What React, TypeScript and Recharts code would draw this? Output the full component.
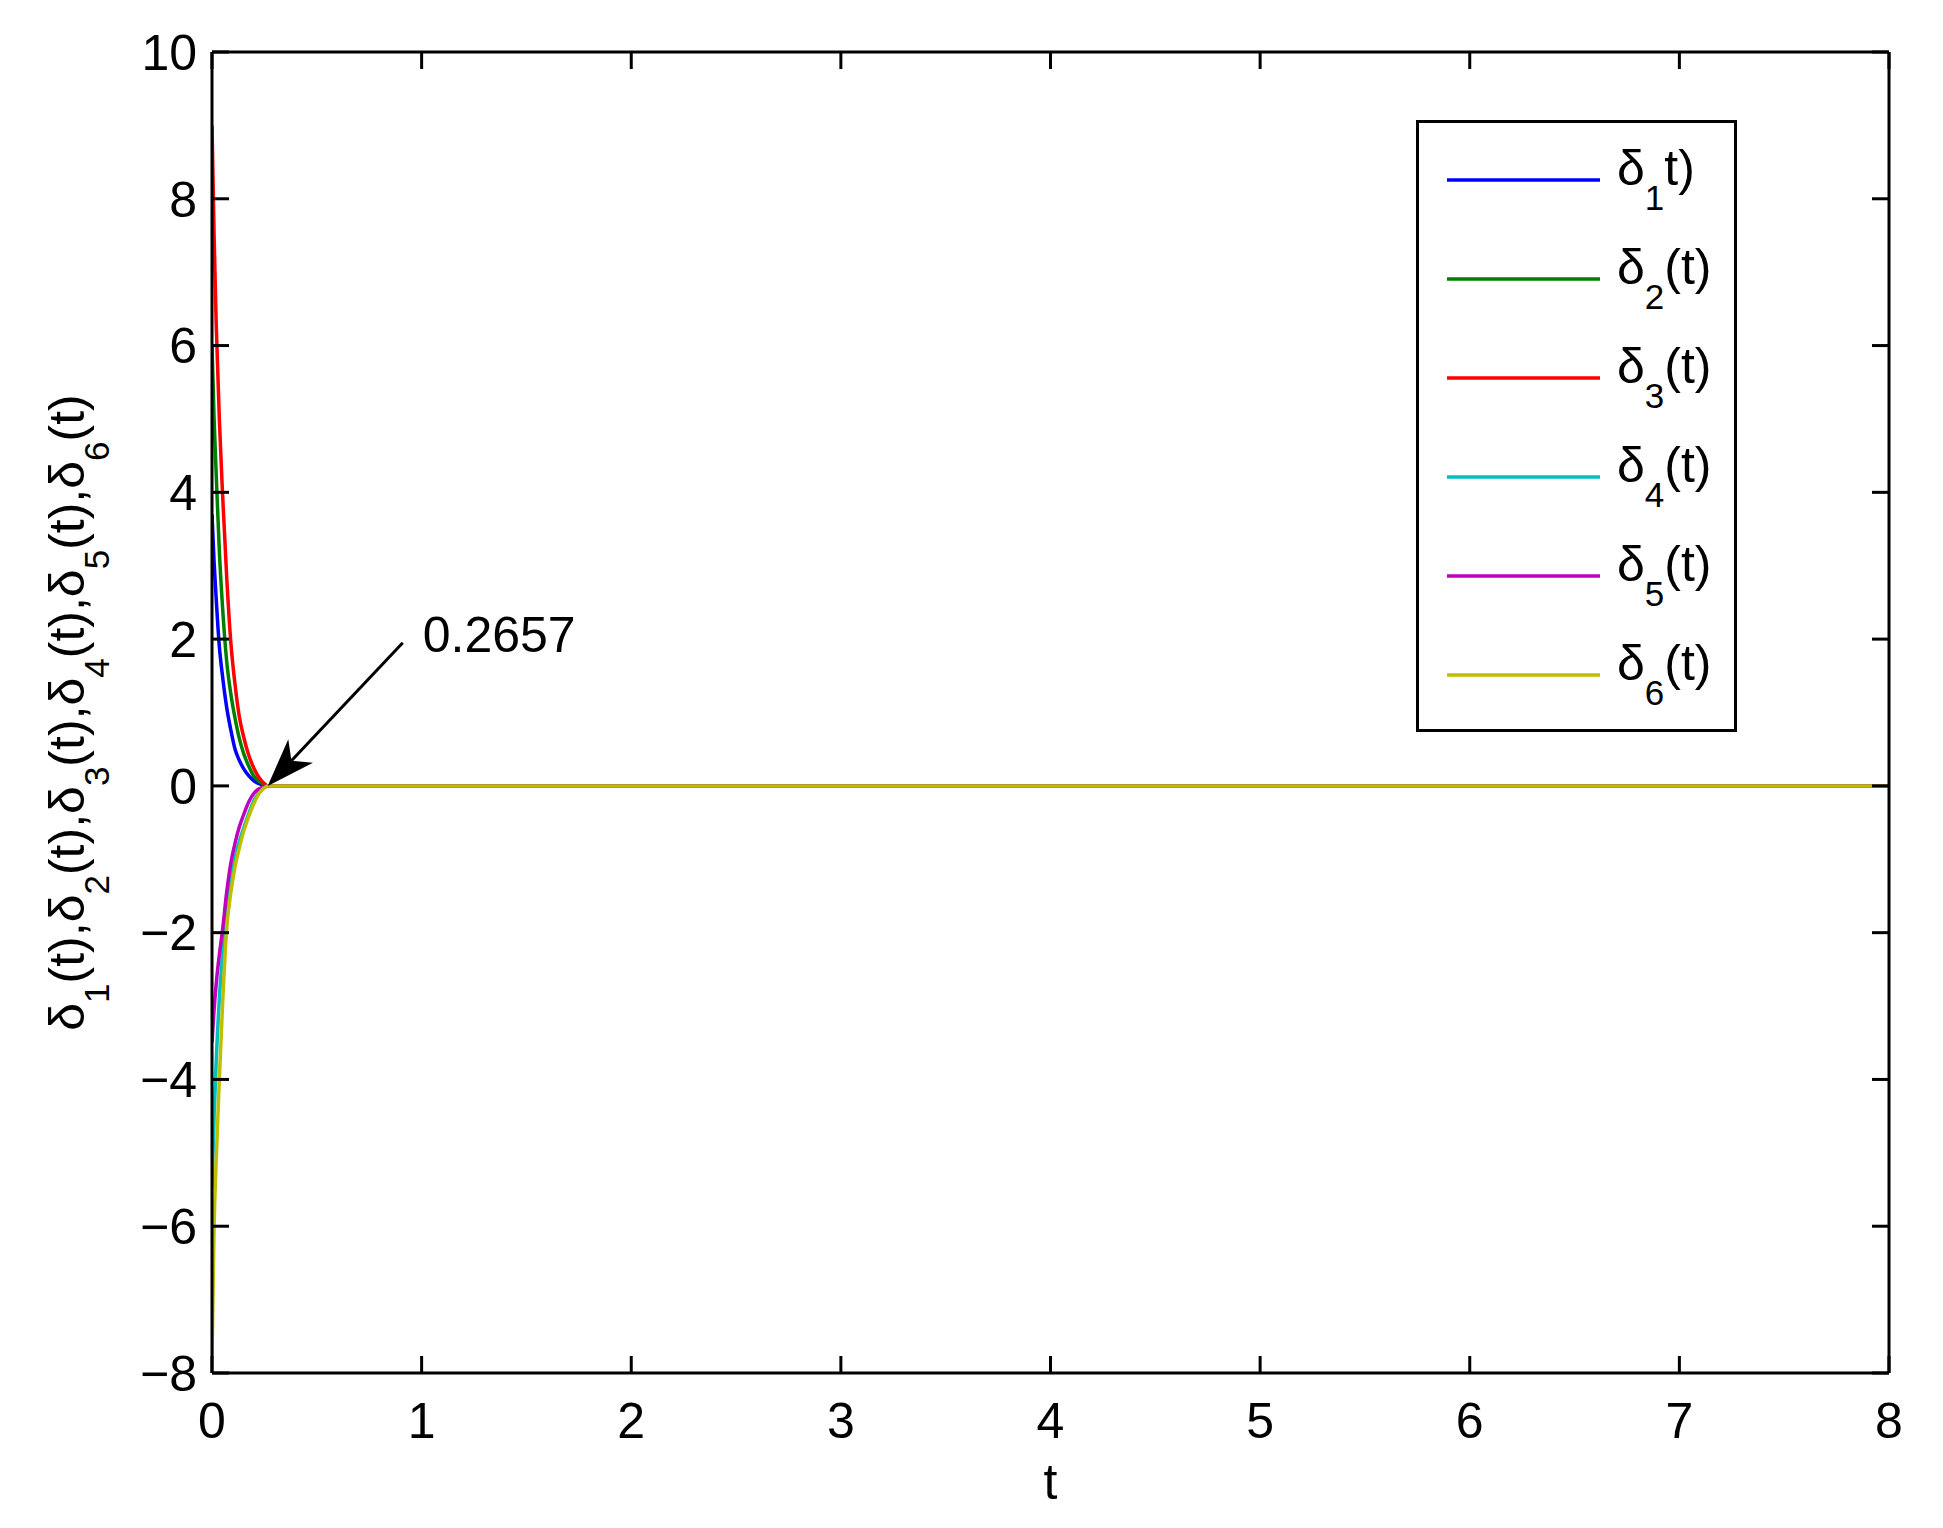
import React from "react";
import {Legend, Line, LineChart, ReferenceLine, XAxis, YAxis} from "recharts";

const FONT = "'Liberation Sans', Arial, Helvetica, sans-serif";

// time samples (s) and the six error trajectories
const times = [0, 0.01, 0.02, 0.035, 0.05, 0.07, 0.09, 0.11, 0.13, 0.15, 0.175, 0.2, 0.225, 0.25, 0.2657, 0.5, 1, 2, 3, 4, 5, 6, 7, 8];
const delta1 = [3.7, 3.05, 2.55, 1.9, 1.5, 1.07, 0.76, 0.5, 0.35, 0.24, 0.14, 0.07, 0.03, 0.005, 0, 0, 0, 0, 0, 0, 0, 0, 0, 0];
const delta2 = [6, 5.0, 4.25, 3.2, 2.45, 1.7, 1.25, 0.92, 0.65, 0.45, 0.27, 0.13, 0.06, 0.015, 0, 0, 0, 0, 0, 0, 0, 0, 0, 0];
const delta3 = [9, 7.5, 6.3, 5.0, 4.0, 2.85, 1.95, 1.38, 0.95, 0.68, 0.42, 0.24, 0.11, 0.03, 0, 0, 0, 0, 0, 0, 0, 0, 0, 0];
const delta4 = [-5.5, -4.5, -3.75, -2.9, -2.3, -1.7, -1.3, -0.98, -0.76, -0.58, -0.38, -0.2, -0.09, -0.02, 0, 0, 0, 0, 0, 0, 0, 0, 0, 0];
const delta5 = [-3.5, -3.05, -2.7, -2.3, -1.97, -1.45, -1.05, -0.78, -0.56, -0.4, -0.22, -0.1, -0.04, -0.01, 0, 0, 0, 0, 0, 0, 0, 0, 0, 0];
const delta6 = [-7.8, -6.0, -5.1, -4.0, -3.0, -1.95, -1.45, -1.1, -0.85, -0.63, -0.42, -0.24, -0.1, -0.025, 0, 0, 0, 0, 0, 0, 0, 0, 0, 0];

const seriesKeys = ["d1", "d2", "d3", "d4", "d5", "d6"];
const seriesColors = ["#0000ff", "#008000", "#ff0000", "#00bfbf", "#bf00bf", "#bfbf00"];
const legendSubs = ["1", "2", "3", "4", "5", "6"];
const legendTails = ["t)", "(t)", "(t)", "(t)", "(t)", "(t)"];

const xTicks = [0, 1, 2, 3, 4, 5, 6, 7, 8];
const yTicks = [-8, -6, -4, -2, 0, 2, 4, 6, 8, 10];

const settleTime = 0.2657;
const arrowTail = {x: 0.91, y: 1.95};

const data = times.map((t, i) => ({
    t,
    d1: delta1[i],
    d2: delta2[i],
    d3: delta3[i],
    d4: delta4[i],
    d5: delta5[i],
    d6: delta6[i],
}));

const fmt = (v: number) => (v < 0 ? "\u2212" + (-v) : String(v));

function ArrowShape(props: any) {
    const {x1, y1, x2, y2} = props;
    const dx = x2 - x1;
    const dy = y2 - y1;
    const len = Math.sqrt(dx * dx + dy * dy);
    const ux = dx / len, uy = dy / len;
    const px = -uy, py = ux;
    const head = 48, half = 17;
    const bx = x2 - ux * head, by = y2 - uy * head;
    const mx = x2 - ux * head * 0.72, my = y2 - uy * head * 0.72;
    const pts = [
        [x2, y2],
        [bx + px * half, by + py * half],
        [mx, my],
        [bx - px * half, by - py * half],
    ].map(p => p.join(",")).join(" ");
    return (
        <g>
            <line x1={x1} y1={y1} x2={mx} y2={my} stroke="#000" strokeWidth={3}/>
            <polygon points={pts} fill="#000"/>
            <text x={x1 + 20} y={y1 + 9} fontSize={50} fontFamily={FONT} fill="#000">{String(settleTime)}</text>
        </g>
    );
}

function LegendBox() {
    const w = 321, h = 612;
    return (
        <svg width={w} height={h}>
            <rect x={1.5} y={1.5} width={w - 3} height={h - 3} fill="#fff" stroke="#000" strokeWidth={3}/>
            {seriesKeys.map((k, i) => {
                const cy = 60 + i * 99;
                return (
                    <g key={k}>
                        <line x1={31} x2={184} y1={cy} y2={cy} stroke={seriesColors[i]} strokeWidth={3.5}/>
                        <text x={201} y={cy + 5} fontSize={50} fontFamily={FONT} fill="#000">
                            <tspan>δ</tspan>
                            <tspan fontSize={35} dy={25}>{legendSubs[i]}</tspan>
                            <tspan dy={-25}>{legendTails[i]}</tspan>
                        </text>
                    </g>
                );
            })}
        </svg>
    );
}

function YLabel(props: any) {
    const vb = props.viewBox || {x: 104, y: 44, width: 100, height: 1321};
    const cx = vb.x - 28;
    const cy = vb.y + vb.height / 2;
    const parts: any[] = [];
    legendSubs.forEach((s, i) => {
        parts.push(<tspan key={"a" + i} dy={i === 0 ? 0 : -25}>{i === 0 ? "δ" : "(t),δ"}</tspan>);
        parts.push(<tspan key={"b" + i} fontSize={35} dy={25}>{s}</tspan>);
    });
    parts.push(<tspan key="end" dy={-25}>(t)</tspan>);
    return (
        <text x={cx} y={cy} transform={`rotate(-90, ${cx}, ${cy})`} textAnchor="middle"
              fontSize={50} fontFamily={FONT} fill="#000">
            {parts}
        </text>
    );
}

const axisLine = {stroke: "#000", strokeWidth: 3};
const tickLine = {stroke: "#000", strokeWidth: 3};
const tickStyle = {fill: "#000", fontSize: 50, fontFamily: FONT};

export default function App() {
    return (
        <LineChart width={1927} height={1512} data={data}
                   margin={{top: 43, right: 45, left: 104, bottom: 7}}
                   style={{background: "#fff", fontFamily: FONT}}>
            <XAxis dataKey="t" type="number" domain={[0, 8]} ticks={xTicks} allowDataOverflow
                   height={140} tickSize={-17} tickMargin={46} axisLine={axisLine} tickLine={tickLine}
                   tick={tickStyle} tickFormatter={fmt}
                   label={{value: "t", position: "insideBottom", offset: 14, fontSize: 50, fill: "#000", fontFamily: FONT}}/>
            {/* mirrored box edges, MATLAB style */}
            <XAxis xAxisId="top" orientation="top" dataKey="t" type="number" domain={[0, 8]} ticks={xTicks}
                   allowDataOverflow height={1} tickSize={-17} axisLine={axisLine} tickLine={tickLine}
                   tickFormatter={() => ""}/>
            <YAxis type="number" domain={[-8, 10]} ticks={yTicks} allowDataOverflow width={100}
                   tickSize={-17} tickMargin={32} axisLine={axisLine} tickLine={tickLine}
                   tick={tickStyle} tickFormatter={fmt} label={YLabel}/>
            <YAxis yAxisId="right" orientation="right" type="number" domain={[-8, 10]} ticks={yTicks}
                   allowDataOverflow width={1} tickSize={-17} axisLine={axisLine} tickLine={tickLine}
                   tickFormatter={() => ""}/>
            {seriesKeys.map((k, i) => (
                <Line key={k} dataKey={k} type="monotone" stroke={seriesColors[i]} strokeWidth={3.5}
                      dot={false} isAnimationActive={false}/>
            ))}
            <ReferenceLine segment={[arrowTail, {x: settleTime, y: 0}]} shape={ArrowShape} ifOverflow="visible"/>
            <Legend layout="vertical" align="center" verticalAlign="middle" content={LegendBox}
                    wrapperStyle={{position: "absolute", left: 1408, top: 112, width: 321, height: 612}}/>
        </LineChart>
    );
}
